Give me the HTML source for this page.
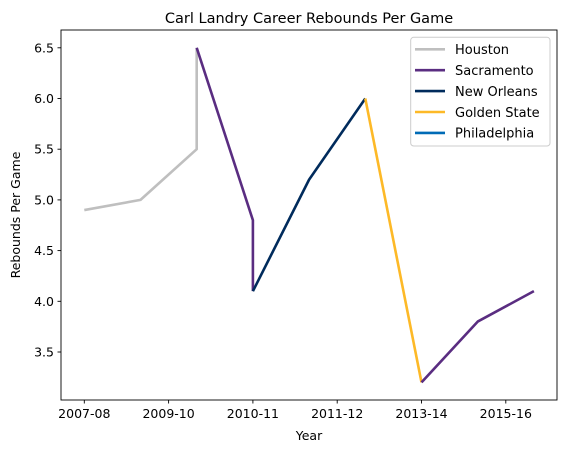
<!DOCTYPE html>
<html><head><meta charset="utf-8"><style>
body{margin:0;background:#fff;font-family:"Liberation Sans","DejaVu Sans",sans-serif;}
svg text{font-family:"DejaVu Sans","Liberation Sans",sans-serif;fill:#000;}
</style></head><body>
<svg id="chart" width="570" height="453" viewBox="0 0 570 453" xmlns="http://www.w3.org/2000/svg">
<text x="309" y="23" font-size="14.5" text-anchor="middle">Carl Landry Career Rebounds Per Game</text>
<text x="309" y="440" font-size="12.5" text-anchor="middle">Year</text>
<text x="20" y="215" font-size="12.5" text-anchor="middle" transform="rotate(-90 20 215)">Rebounds Per Game</text>
<g id="plot"></g>
<rect x="61" y="30" width="496" height="370" fill="none" stroke="#000" stroke-width="0.9"/>
<g id="legend"></g>
</svg>
<script>
const teams=["Houston","Sacramento","New Orleans","Golden State","Philadelphia"];
const colors=["#bfbfbf","#5a2d81","#002b5c","#fdb927","#006bb6"];
const segTeam=[0,1,2,3,1];
const segX=[[0,1,2,2],[2,3,3],[3,4,5],[5,6],[6,7,8]];
const segY=[[4.9,5.0,5.5,6.5],[6.5,4.8,4.1],[4.1,5.2,6.0],[6.0,3.2],[3.2,3.8,4.1]];
const tickIdx=[0,1.5,3,4.5,6,7.5];
const tickLabels=["2007-08","2009-10","2010-11","2011-12","2013-14","2015-16"];
const yTicks=[3.5,4.0,4.5,5.0,5.5,6.0,6.5];
const NS="http://www.w3.org/2000/svg";
const xs=i=>84.3+i*56.2;
const ys=v=>352-(v-3.5)*101.4;
const plot=document.getElementById('plot');
function mk(t,a,p){const e=document.createElementNS(NS,t);for(const k in a)e.setAttribute(k,a[k]);(p||plot).appendChild(e);return e;}
tickIdx.forEach((t,i)=>{
 const l=mk('line',{x1:xs(t),x2:xs(t),y1:400,y2:403.5,stroke:'#000','stroke-width':0.9});
 
 
 const tx=mk('text',{x:xs(t),y:418,'font-size':12.5,'text-anchor':'middle'});tx.textContent=tickLabels[i];
 
 
});
yTicks.forEach(v=>{
 const l=mk('line',{x1:57.5,x2:61,y1:ys(v),y2:ys(v),stroke:'#000','stroke-width':0.9});
 
 
 const tx=mk('text',{x:54,y:ys(v)+4.5,'font-size':12.5,'text-anchor':'end'});tx.textContent=v.toFixed(1);
 
 
});
segX.forEach((sx,s)=>{
 const pts=sx.map((x,i)=>xs(x)+','+ys(segY[s][i])).join(' ');
 const p=mk('polyline',{points:pts,fill:'none',stroke:colors[segTeam[s]],'stroke-width':2.6,'stroke-linejoin':'round'});
 
 
});
const lg=document.getElementById('legend');
mk('rect',{x:410.7,y:37.3,width:139.3,height:108.7,fill:'#fff','fill-opacity':0.8,stroke:'#ccc',rx:3},lg);
teams.forEach((t,i)=>{
 const y=49.3+i*20.9;
 const l=mk('line',{x1:415,x2:445,y1:y,y2:y,stroke:colors[i],'stroke-width':2.6},lg);
 
 
 const tx=mk('text',{x:455,y:y+4.8,'font-size':13},lg);tx.textContent=t;
 
 
});
</script>
</body></html>
